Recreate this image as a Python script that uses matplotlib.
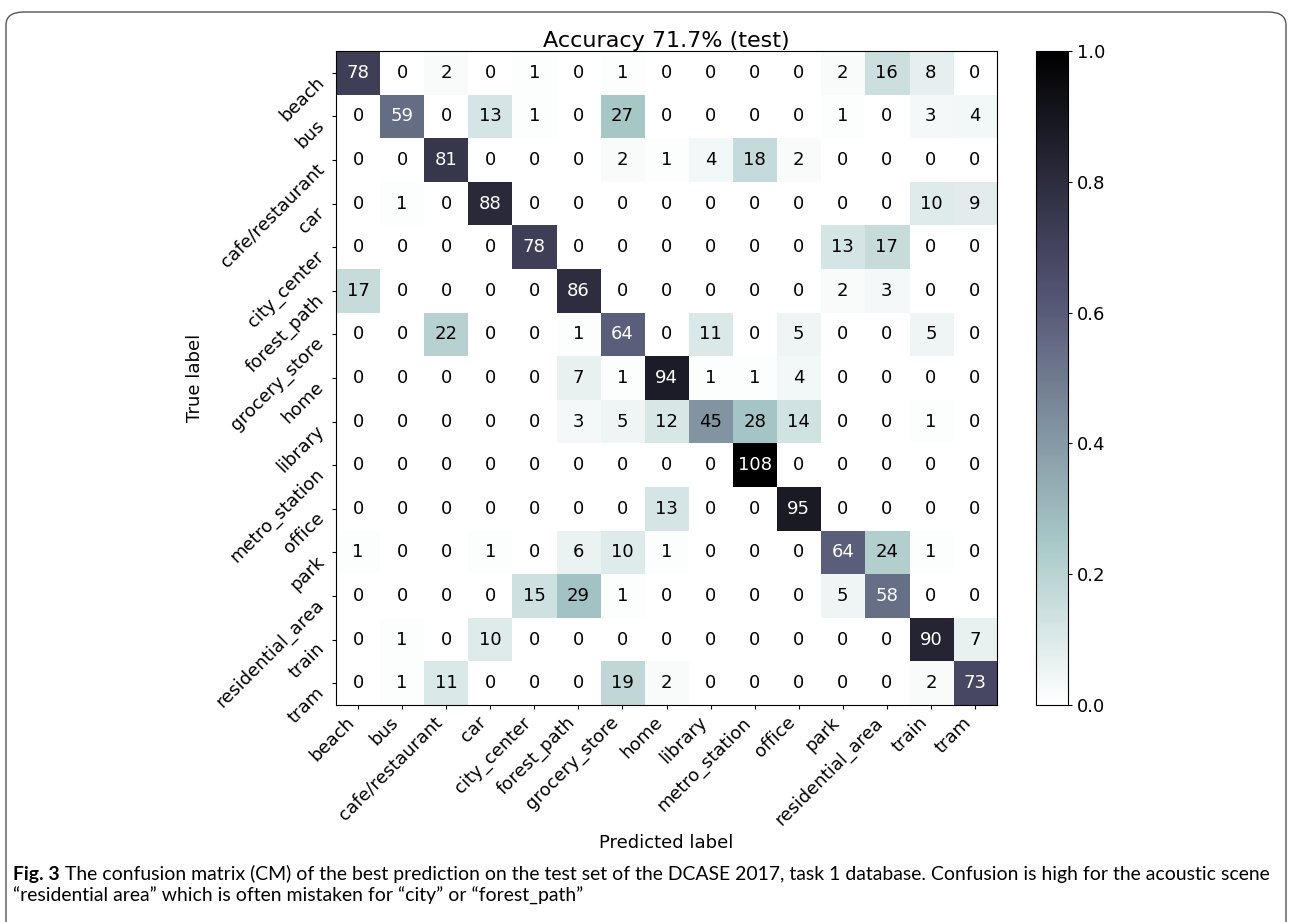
import numpy as np
import matplotlib
matplotlib.use("Agg")
import matplotlib.pyplot as plt
from matplotlib.patches import FancyBboxPatch

classes = ["beach", "bus", "cafe/restaurant", "car", "city_center",
           "forest_path", "grocery_store", "home", "library",
           "metro_station", "office", "park", "residential_area",
           "train", "tram"]

# rows = true label, columns = predicted label
cm = np.array([
    [78, 0, 2, 0, 1, 0, 1, 0, 0, 0, 0, 2, 16, 8, 0],
    [0, 59, 0, 13, 1, 0, 27, 0, 0, 0, 0, 1, 0, 3, 4],
    [0, 0, 81, 0, 0, 0, 2, 1, 4, 18, 2, 0, 0, 0, 0],
    [0, 1, 0, 88, 0, 0, 0, 0, 0, 0, 0, 0, 0, 10, 9],
    [0, 0, 0, 0, 78, 0, 0, 0, 0, 0, 0, 13, 17, 0, 0],
    [17, 0, 0, 0, 0, 86, 0, 0, 0, 0, 0, 2, 3, 0, 0],
    [0, 0, 22, 0, 0, 1, 64, 0, 11, 0, 5, 0, 0, 5, 0],
    [0, 0, 0, 0, 0, 7, 1, 94, 1, 1, 4, 0, 0, 0, 0],
    [0, 0, 0, 0, 0, 3, 5, 12, 45, 28, 14, 0, 0, 1, 0],
    [0, 0, 0, 0, 0, 0, 0, 0, 0, 108, 0, 0, 0, 0, 0],
    [0, 0, 0, 0, 0, 0, 0, 13, 0, 0, 95, 0, 0, 0, 0],
    [1, 0, 0, 1, 0, 6, 10, 1, 0, 0, 0, 64, 24, 1, 0],
    [0, 0, 0, 0, 15, 29, 1, 0, 0, 0, 0, 5, 58, 0, 0],
    [0, 1, 0, 10, 0, 0, 0, 0, 0, 0, 0, 0, 0, 90, 7],
    [0, 1, 11, 0, 0, 0, 19, 2, 0, 0, 0, 0, 0, 2, 73],
])

accuracy = 71.7
caption_bold = "Fig. 3"
caption_rest = (" The confusion matrix (CM) of the best prediction on the test set of the "
                "DCASE 2017, task 1 database. Confusion is high for the acoustic scene")
caption_line2 = "\u201cresidential area\u201d which is often mistaken for \u201ccity\u201d or \u201cforest_path\u201d"

cm_norm = cm / cm.sum(axis=1, keepdims=True)

W, H = 1289, 922
fig = plt.figure(figsize=(W / 100, H / 100), dpi=100)

# rounded frame, open at the bottom edge
frame = FancyBboxPatch((6 / W, -0.05), 1280 / W, 1.05 - 12 / H,
                       boxstyle="round,pad=0,rounding_size=0.014",
                       transform=fig.transFigure, fill=False,
                       edgecolor="#555555", linewidth=1.0)
fig.patches.append(frame)

ax = fig.add_axes([336 / W, 1 - 705 / H, 661 / W, 654 / H])
im = ax.imshow(cm_norm, cmap="bone_r", vmin=0, vmax=1,
               interpolation="nearest", aspect="auto")
ax.set_title(f"Accuracy {accuracy}% (test)", fontsize=16, pad=3)

n = len(classes)
ax.set_xticks(np.arange(n))
ax.set_yticks(np.arange(n))
ax.set_xticklabels(classes, rotation=45, ha="right", fontsize=13)
ax.set_yticklabels(classes, rotation=45, va="top", fontsize=13)
ax.tick_params(length=3, width=0.8, pad=3)

for i in range(n):
    for j in range(n):
        ax.text(j, i, str(cm[i, j]), ha="center", va="center", fontsize=13,
                color="white" if cm_norm[i, j] > 0.5 else "black")

ax.set_ylabel("True label", fontsize=13, labelpad=6)
ax.set_xlabel("Predicted label", fontsize=13, labelpad=4)

cax = fig.add_axes([1036 / W, 1 - 705 / H, 32 / W, 654 / H])
cb = fig.colorbar(im, cax=cax, ticks=[0, 0.2, 0.4, 0.6, 0.8, 1.0])
cb.ax.tick_params(labelsize=13, length=3, width=0.8)
cb.outline.set_linewidth(0.8)

# caption: bold figure number followed by plain text, fitted to the frame width
cap_font = ["Lato", "DejaVu Sans"]
x0 = 13 / W
y1 = 1 - 880 / H
y2 = 1 - 902 / H
fs = 12
t1 = fig.text(x0, y1, caption_bold, fontsize=fs, fontweight="bold",
              family=cap_font, va="baseline")
t2 = fig.text(0, y1, caption_rest, fontsize=fs, family=cap_font, va="baseline")
t3 = fig.text(x0, y2, caption_line2, fontsize=fs, family=cap_font, va="baseline")
fig.canvas.draw()
r = fig.canvas.get_renderer()
total = t1.get_window_extent(r).width + t2.get_window_extent(r).width
fs = fs * (1265 - 13) / total
for t in (t1, t2, t3):
    t.set_fontsize(fs)
fig.canvas.draw()
t2.set_x(t1.get_window_extent(r).x1 / W)

fig.savefig("out.png", dpi=100)
